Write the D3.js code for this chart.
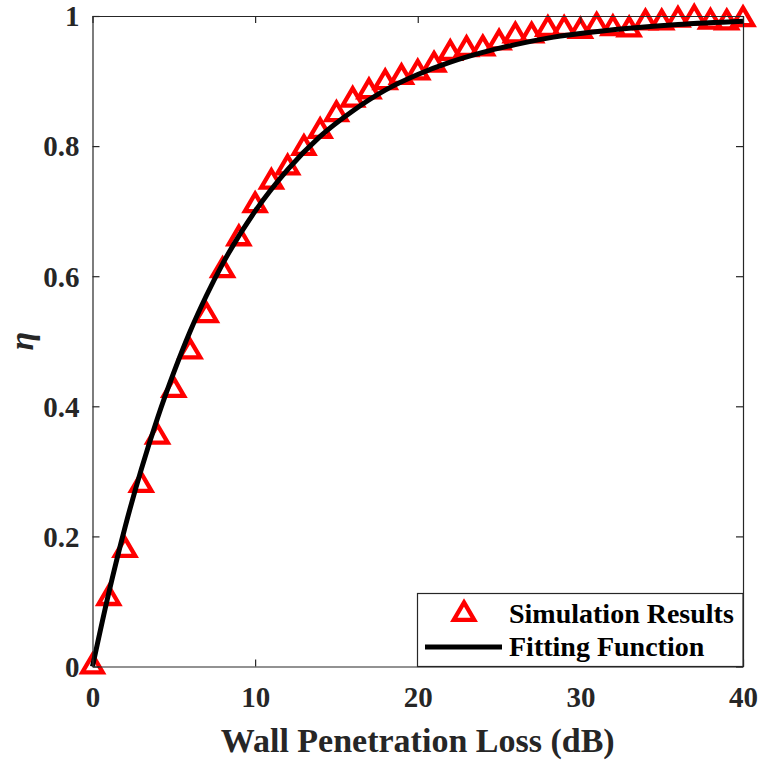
<!DOCTYPE html>
<html>
<head>
<meta charset="utf-8">
<script src="https://cdn.jsdelivr.net/npm/d3@7"></script>
<style>
  body { margin: 0; background: #fff; }
  text { font-family: "Liberation Serif", "Times New Roman", serif; font-weight: bold; }
</style>
</head>
<body>
<div id="chart"></div>
<script>
/* simulated points, one per dB of wall loss */
const lossDb = d3.range(0, 41);
const simEta = [
  0.000, 0.105, 0.179, 0.279, 0.353, 0.425, 0.484, 0.540, 0.609, 0.658,
  0.709, 0.745, 0.767, 0.797, 0.823, 0.849, 0.871, 0.884, 0.898, 0.906,
  0.913, 0.925, 0.943, 0.949, 0.950, 0.959, 0.970, 0.970, 0.980, 0.980,
  0.977, 0.985, 0.981, 0.979, 0.990, 0.990, 0.994, 0.997, 0.991, 0.990,
  0.995
];

/* fitted curve, read at a few points */
const fitX = [0, 1, 2, 3, 4, 5, 6, 7, 8, 10, 12, 14, 16, 18, 20, 22, 24, 26, 28, 30, 33, 36, 40];
const fitEta = [0, 0.113, 0.214, 0.303, 0.382, 0.452, 0.515, 0.570, 0.619, 0.700, 0.764,
  0.815, 0.854, 0.886, 0.910, 0.929, 0.944, 0.956, 0.966, 0.973, 0.981, 0.987, 0.992];

const xTicks = [0, 10, 20, 30, 40];
const yTicks = [0, 0.2, 0.4, 0.6, 0.8, 1];
const legendLabels = ["Simulation Results", "Fitting Function"];

const svgWidth = 761, svgHeight = 763;
const plotLeft = 92.5, plotRight = 743, plotTop = 16, plotBottom = 666.5;
const axisColor = "#262626";

const svg = d3.select("#chart").append("svg")
  .attr("width", svgWidth)
  .attr("height", svgHeight);

const x = d3.scaleLinear().domain([0, 40]).range([plotLeft, plotRight]);
const y = d3.scaleLinear().domain([0, 1]).range([plotBottom, plotTop]);

/* triangle with its centroid on the data point */
const tri = "M0,-11.6L10.2,5.8L-10.2,5.8Z";
const triStroke = 4.3;

svg.append("g")
  .selectAll("path")
  .data(lossDb)
  .join("path")
    .attr("d", tri)
    .attr("transform", d => "translate(" + x(d) + "," + y(simEta[d]) + ")")
    .attr("fill", "none")
    .attr("stroke", "#ff0000")
    .attr("stroke-width", triStroke);

const line = d3.line()
  .x((d, i) => x(fitX[i]))
  .y(d => y(d))
  .curve(d3.curveMonotoneX);

svg.append("path")
  .attr("d", line(fitEta))
  .attr("fill", "none")
  .attr("stroke", "#000")
  .attr("stroke-width", 5);

/* axes, ticks on all four sides pointing in */
const tickLen = 7;
svg.append("g")
  .attr("transform", "translate(0," + plotBottom + ")")
  .call(d3.axisBottom(x).tickValues(xTicks).tickSizeInner(-tickLen).tickSizeOuter(0).tickPadding(20))
  .call(g => g.selectAll("text").attr("font-size", 29).attr("fill", axisColor));
svg.append("g")
  .attr("transform", "translate(0," + plotTop + ")")
  .call(d3.axisTop(x).tickValues(xTicks).tickSizeInner(-tickLen).tickSizeOuter(0).tickFormat(""));
svg.append("g")
  .attr("transform", "translate(" + plotLeft + ",0)")
  .call(d3.axisLeft(y).tickValues(yTicks).tickSizeInner(-tickLen).tickSizeOuter(0).tickPadding(13)
    .tickFormat(d => d === 0 || d === 1 ? d3.format("d")(d) : d3.format(".1f")(d)))
  .call(g => g.selectAll("text").attr("font-size", 29).attr("fill", axisColor).attr("dy", "0.34em"));
svg.append("g")
  .attr("transform", "translate(" + plotRight + ",0)")
  .call(d3.axisRight(y).tickValues(yTicks).tickSizeInner(-tickLen).tickSizeOuter(0).tickFormat(""));

svg.selectAll(".domain").attr("stroke", axisColor).attr("stroke-width", 1.2);
svg.selectAll(".tick line").attr("stroke", axisColor).attr("stroke-width", 1.2);
svg.selectAll(".tick text").attr("font-family", "Liberation Serif").attr("font-weight", "bold");

/* labels */
svg.append("text")
  .attr("x", (plotLeft + plotRight) / 2)
  .attr("y", 752)
  .attr("text-anchor", "middle")
  .attr("font-size", 34)
  .attr("fill", axisColor)
  .text("Wall Penetration Loss (dB)");

svg.append("text")
  .attr("transform", "translate(33," + ((plotTop + plotBottom) / 2) + ") rotate(-90)")
  .attr("text-anchor", "middle")
  .attr("font-family", "Liberation Serif")
  .attr("font-size", 34)
  .attr("font-style", "italic")
  .attr("font-weight", "normal")
  .attr("fill", axisColor)
  .text("η");

/* legend */
const lg = svg.append("g");
lg.append("rect")
  .attr("x", 417.5).attr("y", 593.5)
  .attr("width", plotRight - 417.5).attr("height", plotBottom - 593.5)
  .attr("fill", "#fff")
  .attr("stroke", axisColor)
  .attr("stroke-width", 1.2);
lg.append("path")
  .attr("d", tri)
  .attr("transform", "translate(464,614)")
  .attr("fill", "none")
  .attr("stroke", "#ff0000")
  .attr("stroke-width", triStroke);
lg.append("line")
  .attr("x1", 425).attr("x2", 502)
  .attr("y1", 647).attr("y2", 647)
  .attr("stroke", "#000")
  .attr("stroke-width", 5);
lg.selectAll("text.leg")
  .data(legendLabels)
  .join("text")
    .attr("class", "leg")
    .attr("x", 509)
    .attr("y", (d, i) => 623 + i * 33)
    .attr("font-size", 28)
    .attr("fill", "#000")
    .text(d => d);
</script>
</body>
</html>
